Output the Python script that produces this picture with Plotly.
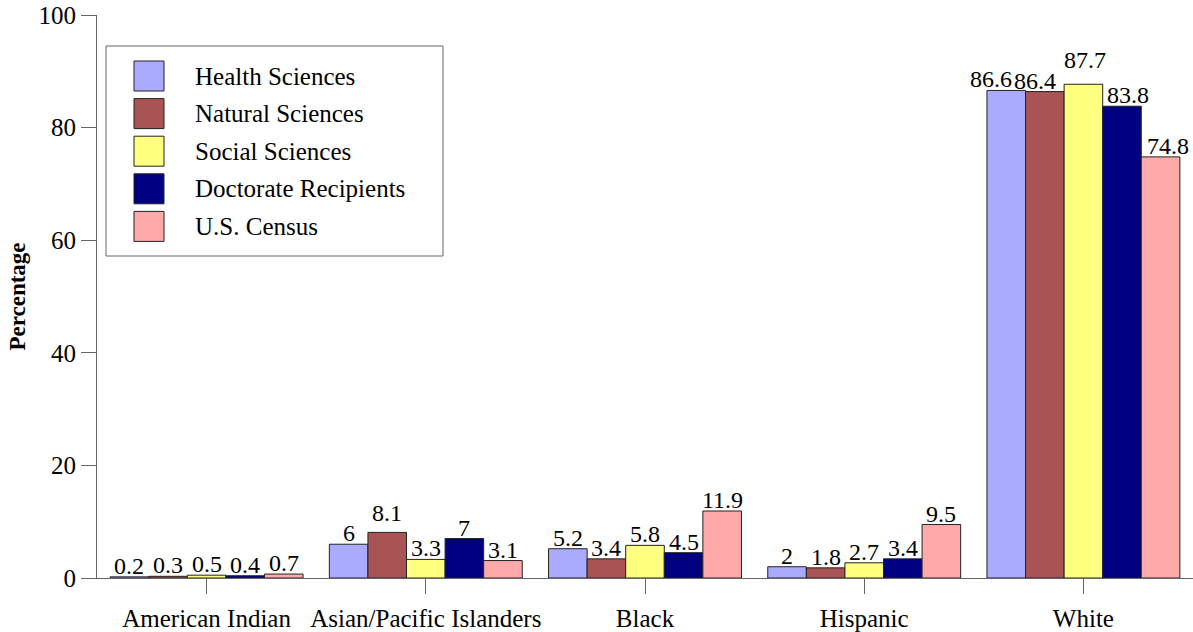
import plotly.graph_objects as go

categories = ["American Indian", "Asian/Pacific Islanders", "Black", "Hispanic", "White"]
series_names = ["Health Sciences", "Natural Sciences", "Social Sciences",
                "Doctorate Recipients", "U.S. Census"]
health = [0.2, 6, 5.2, 2, 86.6]
natural = [0.3, 8.1, 3.4, 1.8, 86.4]
social = [0.5, 3.3, 5.8, 2.7, 87.7]
doctorate = [0.4, 7, 4.5, 3.4, 83.8]
census = [0.7, 3.1, 11.9, 9.5, 74.8]
y_ticks = [0, 20, 40, 60, 80, 100]

colors = ["#aaaaff", "#a85454", "#ffff80", "#000080", "#ffaaaa"]
values = [health, natural, social, doctorate, census]
FONT = "Liberation Serif, Times New Roman, serif"
FS = 25
LABEL_FS = 24

PH = 563           # plot height in px
PW = 1096          # plot width in px
BAR_PX = PW / len(categories) * (1 - 0.12) / len(series_names)
# (dx, dy) pixel nudges that keep the crowded value labels apart
nudge = {("White", 0): (-15, 0), ("White", 1): (-10, 0), ("White", 2): (2, 13),
         ("White", 3): (6, 0), ("White", 4): (7, 0),
         ("Asian/Pacific Islanders", 1): (0, 8)}

fig = go.Figure()
annotations = []
for si, (name, vals, col) in enumerate(zip(series_names, values, colors)):
    fig.add_trace(go.Bar(
        x=categories, y=vals, name=name,
        marker=dict(color=col, line=dict(color="#222222", width=1)),
        showlegend=False,
    ))
    for cat, v in zip(categories, vals):
        dx, dy = nudge.get((cat, si), (0, 0))
        annotations.append(dict(
            xref="x", yref="y", x=cat, y=v, text=f"{v:g}", showarrow=False,
            xanchor="center", yanchor="middle",
            xshift=(si - 2) * BAR_PX + dx, yshift=11 + dy,
            font=dict(family=FONT, size=LABEL_FS, color="#000"),
        ))

# Legend panel drawn as shapes and annotations
shapes = [dict(type="rect", xref="paper", yref="paper",
               x0=(106 - 97) / PW, x1=(443 - 97) / PW,
               y0=1 - (256 - 15) / PH, y1=1 - (46 - 15) / PH,
               line=dict(color="#666666", width=1), fillcolor="white", layer="above")]
for i, (name, col) in enumerate(zip(series_names, colors)):
    yc = 1 - (76 - 15 + i * 37.6) / PH
    shapes.append(dict(type="rect", xref="paper", yref="paper",
                       x0=(134 - 97) / PW, x1=(164 - 97) / PW,
                       y0=yc - 15 / PH, y1=yc + 15 / PH,
                       line=dict(color="#222222", width=1), fillcolor=col, layer="above"))
    annotations.append(dict(xref="paper", yref="paper", x=(193 - 97) / PW, y=yc,
                            text=name, showarrow=False, xanchor="left", yanchor="middle",
                            font=dict(family=FONT, size=FS, color="#000")))

fig.update_layout(
    width=1193, height=632,
    margin=dict(l=97, r=0, t=15, b=54),
    paper_bgcolor="white", plot_bgcolor="white",
    barmode="group", bargap=0.12, bargroupgap=0,
    font=dict(family=FONT, size=FS, color="#000"),
    shapes=shapes, annotations=annotations,
    showlegend=False,
)
fig.update_xaxes(
    showline=True, linecolor="#666666", linewidth=1,
    ticks="outside", ticklen=15, tickcolor="#666666", ticklabelstandoff=3,
    tickfont=dict(family=FONT, size=FS), showgrid=False,
)
fig.update_yaxes(
    range=[0, 100], tickvals=y_ticks, showline=True, linecolor="#666666", linewidth=1,
    ticks="outside", ticklen=15, tickcolor="#666666", showgrid=False, zeroline=False,
    tickfont=dict(family=FONT, size=FS),
    title=dict(text="<b>Percentage</b>", font=dict(family=FONT, size=23), standoff=6),
)

fig.write_html("out.html")
